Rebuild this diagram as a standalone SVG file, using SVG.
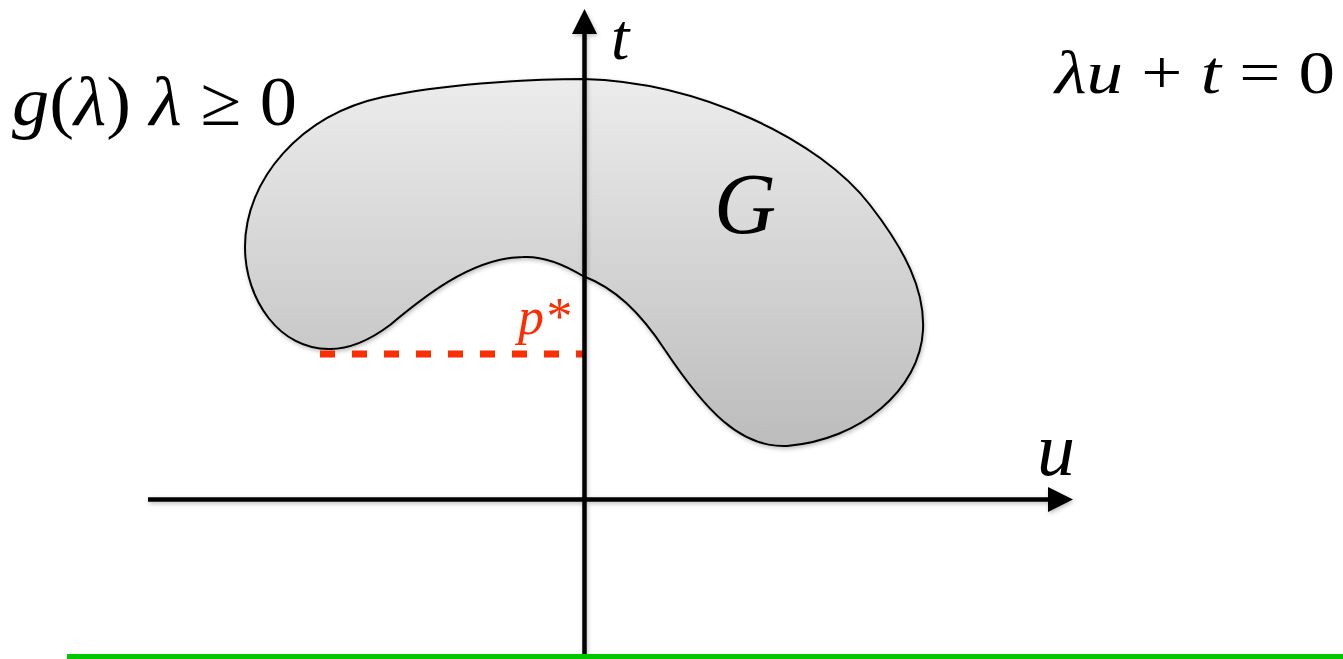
<svg xmlns="http://www.w3.org/2000/svg" width="1343" height="659" viewBox="0 0 1343 659">
  <style>
    .math { font-family: "Liberation Serif", "Times New Roman", serif; fill: #000; }
    .it { font-style: italic; }
    .axis { stroke: #000; stroke-width: 4.5; fill: none; }
  </style>
  <defs>
    <linearGradient id="blobFill" x1="0" y1="0" x2="0" y2="1">
      <stop offset="0" stop-color="#ececec"/>
      <stop offset="1" stop-color="#bcbcbc"/>
    </linearGradient>
    <filter id="shadow" x="-10%" y="-10%" width="120%" height="120%">
      <feDropShadow dx="1" dy="2" stdDeviation="2" flood-color="#000" flood-opacity="0.25"/>
    </filter>
  </defs>
  <rect width="1343" height="659" fill="#fff"/>

  <g id="region-G">
    <path filter="url(#shadow)" fill="url(#blobFill)" stroke="#000" stroke-width="2"
      d="M 583 79 C 700 82, 820 140, 870 205 C 905 250, 925 290, 923 330 C 920 390, 860 440, 787 446 C 740 448, 705 410, 665 350 C 640 312, 615 288, 583 276 C 560 262, 540 256, 523 257 C 470 258, 420 300, 390 325 C 370 340, 350 349, 330 349 C 280 350, 245 300, 245 247 C 245 180, 300 115, 383 97 C 440 85, 520 79, 583 79 Z"/>
    <text class="math it" x="714" y="233" font-size="86">G</text>
  </g>

  <g id="pstar">
    <line x1="320" y1="354" x2="584" y2="354" stroke="#fc2c03" stroke-width="7" stroke-dasharray="15 17"/>
    <text class="math it" x="518" y="334" font-size="52" fill="#fc2c03" style="fill:#fc2c03">p*</text>
  </g>

  <g id="connectors" filter="url(#shadow)">
    <line class="axis" x1="584.5" y1="30" x2="584.5" y2="659"/>
    <polygon points="584.5,9 572,34 597,34" fill="#000"/>
    <line class="axis" x1="148" y1="499.5" x2="1050" y2="499.5"/>
    <polygon points="1073,499.5 1048,487 1048,512" fill="#000"/>
  </g>

  <g id="axis-labels">
    <text class="math it" x="611" y="59" font-size="66">t</text>
    <text class="math it" x="1037" y="475" font-size="76">u</text>
  </g>

  <g id="dual-label">
    <text class="math" x="12" y="125" font-size="70" textLength="285" lengthAdjust="spacingAndGlyphs"><tspan class="it">g</tspan>(<tspan class="it">λ</tspan>) <tspan class="it">λ</tspan> ≥ 0</text>
  </g>

  <g id="line-label">
    <text class="math" x="1055" y="93" font-size="62" textLength="280" lengthAdjust="spacingAndGlyphs"><tspan class="it">λu</tspan> + <tspan class="it">t</tspan> = 0</text>
  </g>

  <g id="green-line">
    <line x1="67" y1="656.5" x2="1343" y2="656.5" stroke="#00c800" stroke-width="5"/>
  </g>
</svg>
